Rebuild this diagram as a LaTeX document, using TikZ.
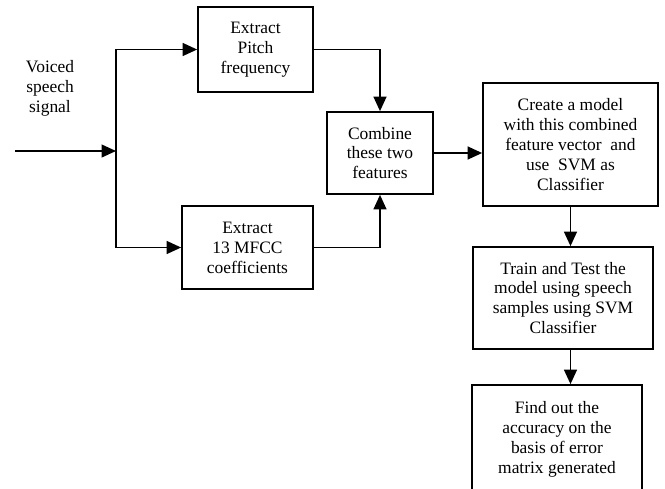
\documentclass[tikz,border=0pt]{standalone}
\usepackage{fontspec}
\setmainfont{Liberation Serif}
\usepackage{tikz}
\usetikzlibrary{arrows.meta,positioning}

\begin{document}
\begin{tikzpicture}[x=0.025cm,y=-0.025cm,
    block/.style={draw, line width=1.2pt, align=center, inner sep=2pt,
      font=\fontsize{12.4}{14.2}\selectfont},
    arr/.style={-{Triangle[length=0.36cm,width=0.32cm]}, line width=1.2pt}]
      \clip (0,0) rectangle (665,488);

      \node[align=center, font=\fontsize{12.4}{14.2}\selectfont] (voiced) at (50,88) {Voiced\\speech\\signal};

      \node[block, minimum width=2.875cm, minimum height=2.125cm] (pitch) at (255.5,49.5) {Extract\\Pitch\\frequency};
      \node[block, minimum width=3.275cm, minimum height=2.075cm] (mfcc) at (247.5,247.5) {Extract\\13 MFCC\\coefficients};
      \node[block, minimum width=2.65cm, minimum height=2.05cm] (combine) at (380,153) {Combine\\these two\\features};
      \node[block, minimum width=4.375cm, minimum height=3.075cm] (model) at (570.5,144.5) {Create a model\\with this combined\\feature vector\ \ and\\use\ \ SVM as\\Classifier};
      \node[block, minimum width=4.5cm, minimum height=2.55cm] (train) at (563,298) {Train and Test the\\model using speech\\samples using SVM\\Classifier};
      \node[block, minimum width=4.25cm, minimum height=2.7cm] (result) at (557,439) {Find out the\\accuracy on the\\basis of error\\matrix generated};

      \coordinate (in) at (15,151);
      \coordinate (split) at (116,151);

      \draw[arr] (in) -- (split);
      \draw[arr] (split) |- (pitch.west);
      \draw[arr] (split) |- (mfcc.west);
      \draw[arr] (pitch.east) -| (combine.north);
      \draw[arr] (mfcc.east) -| (combine.south);
      \draw[arr] (combine.east) -- (combine.east -| model.west);
      \draw[arr] (model.south) -- (model.south |- train.north);
      \draw[arr] (model.south |- train.south) -- (model.south |- result.north);
    \end{tikzpicture}
\end{document}
